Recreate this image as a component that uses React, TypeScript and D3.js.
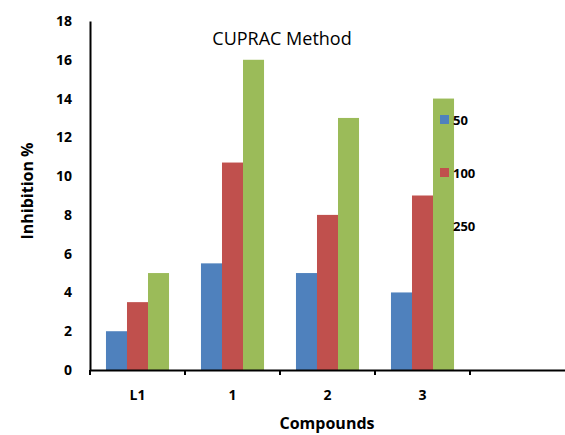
import React, { useEffect, useRef } from 'react';
import * as d3 from 'd3';

const categories = ['L1', '1', '2', '3', ''];
const seriesNames = ['50', '100', '250'];
const values50 = [2, 5.5, 5, 4];
const values100 = [3.5, 10.7, 8, 9];
const values250 = [5, 16, 13, 14];
const yTicks = [0, 2, 4, 6, 8, 10, 12, 14, 16, 18];
const colors = ['#4f81bd', '#c0504d', '#9bbb59'];

const App = () => {
    const ref = useRef<SVGSVGElement>(null);

    useEffect(() => {
        const width = 565;
        const height = 435;
        const margin = { top: 21, right: 0, bottom: 65, left: 90 };
        const font = "'Open Sans', Arial, sans-serif";

        const svg = d3.select(ref.current);
        svg.selectAll('*').remove();

        const x = d3
            .scaleBand()
            .domain(categories.map((c, i) => String(i)))
            .range([margin.left, width - margin.right])
            .paddingInner(0)
            .paddingOuter(0);

        const x1 = d3
            .scaleBand()
            .domain(seriesNames)
            .range([0, x.bandwidth()])
            .paddingOuter(0.76)
            .paddingInner(0);

        const y = d3
            .scaleLinear()
            .domain([0, 18])
            .range([height - margin.bottom, margin.top]);

        const series = [values50, values100, values250];

        // barre
        series.forEach((vals, s) => {
            svg
                .append('g')
                .selectAll('rect')
                .data(vals)
                .join('rect')
                .attr('x', (d, i) => (x(String(i)) as number) + (x1(seriesNames[s]) as number))
                .attr('y', (d) => y(d))
                .attr('width', x1.bandwidth())
                .attr('height', (d) => y(0) - y(d))
                .attr('fill', colors[s]);
        });

        // asse Y
        const yAxis = svg
            .append('g')
            .attr('transform', `translate(${margin.left},0)`)
            .call(d3.axisLeft(y).tickValues(yTicks).tickSize(0).tickPadding(18));
        yAxis.select('.domain').attr('stroke', '#000').attr('stroke-width', 2);
        yAxis
            .selectAll('text')
            .attr('font-family', font)
            .attr('font-weight', 'bold')
            .attr('font-size', 14)
            .attr('fill', '#000');

        // asse X
        const xAxis = svg
            .append('g')
            .attr('transform', `translate(0,${y(0)})`)
            .call(
                d3
                    .axisBottom(x)
                    .tickSize(0)
                    .tickPadding(20)
                    .tickFormat((d) => categories[+d])
            );
        xAxis.select('.domain').attr('stroke', '#000').attr('stroke-width', 2);
        xAxis
            .selectAll('text')
            .attr('font-family', font)
            .attr('font-weight', 'bold')
            .attr('font-size', 14)
            .attr('fill', '#000');

        // tacche tra le categorie
        const boundaries = categories.map((c, i) => x(String(i)) as number);
        svg
            .append('g')
            .selectAll('line')
            .data(boundaries)
            .join('line')
            .attr('x1', (d) => d)
            .attr('x2', (d) => d)
            .attr('y1', y(0))
            .attr('y2', y(0) + 5)
            .attr('stroke', '#000')
            .attr('stroke-width', 2);

        // titolo
        svg
            .append('text')
            .attr('x', 282)
            .attr('y', 45)
            .attr('text-anchor', 'middle')
            .attr('font-family', font)
            .attr('font-size', 18)
            .text('CUPRAC Method');

        svg
            .append('text')
            .attr('x', 327)
            .attr('y', 429)
            .attr('text-anchor', 'middle')
            .attr('font-family', font)
            .attr('font-weight', 'bold')
            .attr('font-size', 16)
            .text('Compounds');

        svg
            .append('text')
            .attr('transform', `translate(33,191) rotate(-90)`)
            .attr('text-anchor', 'middle')
            .attr('font-family', font)
            .attr('font-weight', 'bold')
            .attr('font-size', 16)
            .text('Inhibition %');

        // legenda
        const legend = svg
            .append('g')
            .selectAll('g')
            .data(seriesNames)
            .join('g')
            .attr('transform', (d, i) => `translate(440,${115 + i * 53})`);
        legend
            .append('rect')
            .attr('width', 9)
            .attr('height', 9)
            .attr('fill', (d, i) => colors[i]);
        legend
            .append('text')
            .attr('x', 13)
            .attr('y', 10)
            .attr('font-family', font)
            .attr('font-weight', 'bold')
            .attr('font-size', 13)
            .text((d) => d);
    }, []);

    return <svg ref={ref} width={565} height={435} style={{ display: 'block', position: 'absolute', left: 0, top: 0 }}></svg>;
};

export default App;
